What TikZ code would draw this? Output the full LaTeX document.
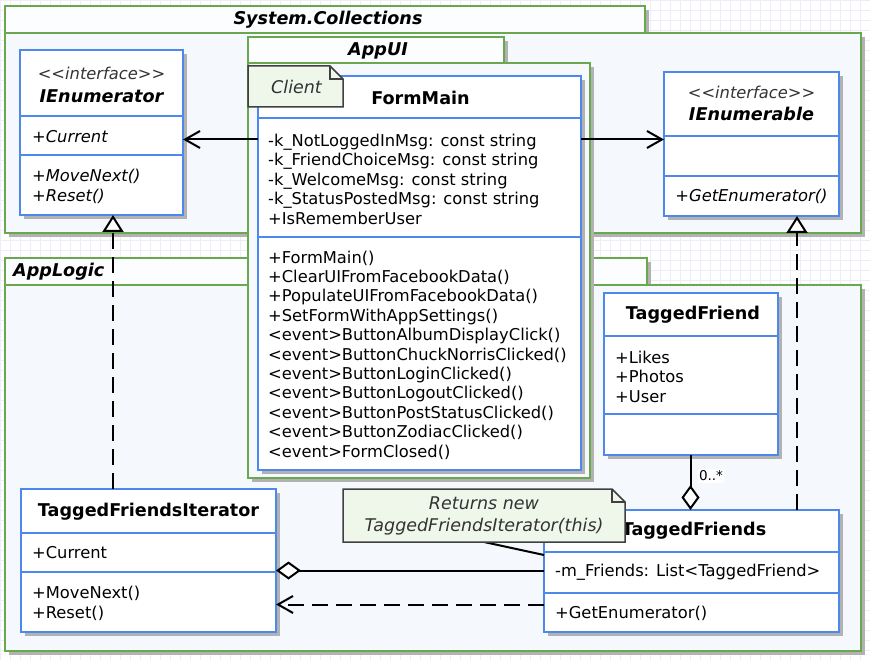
\documentclass[tikz,border=0pt]{standalone}
\usepackage{fontspec}
\setmainfont{DejaVu Sans}
\usetikzlibrary{arrows.meta,shadows}

\definecolor{verdepkg}{RGB}{106,168,79}
\definecolor{fundopkg}{RGB}{245,249,253}
\definecolor{fundoaba}{RGB}{252,253,255}
\definecolor{azulcls}{RGB}{77,137,237}
\definecolor{fundonota}{RGB}{239,246,234}
\definecolor{linhanota}{RGB}{64,64,64}
\definecolor{grade}{RGB}{237,237,249}

\newcommand{\fonteuml}{\fontsize{16.3}{19.4}\selectfont}
\newcommand{\fontetitulo}{\fontsize{17.6}{21}\selectfont}
\newcommand{\fontenota}{\fontsize{17.5}{21.5}\selectfont}
\newcommand{\fontemult}{\fontsize{13.5}{15}\selectfont}

\tikzset{
  sombra/.style={drop shadow={shadow xshift=4pt,shadow yshift=-4pt,fill=black!30,opacity=1}},
  pacote/.style={draw=verdepkg,line width=2pt,fill=fundopkg,sombra},
  aba/.style={pacote,fill=fundoaba},
  rotulopkg/.style={font=\fontetitulo\bfseries\itshape,inner sep=0pt},
  classe/.style={draw=azulcls,line width=2pt,fill=white,sombra,
    anchor=north west,inner sep=0pt,outer sep=0pt},
  divisoria/.style={draw=azulcls,line width=2pt},
  titulo/.style={font=\fontetitulo\bfseries,inner sep=0pt},
  estereo/.style={font=\fonteuml\itshape,text=black!80,inner sep=0pt},
  interface/.style={font=\fontetitulo\bfseries\itshape,inner sep=0pt},
  membros/.style={font=\fonteuml,anchor=west,align=left,inner sep=0pt},
  abstrato/.style={membros,font=\fonteuml\itshape},
  nota/.style={anchor=north west,inner sep=0pt,outer sep=0pt},
  notafundo/.style={draw=linhanota,line width=1.5pt,fill=fundonota},
  textonota/.style={font=\fontenota\itshape,align=center,text=black!80,inner sep=0pt},
  ligacao/.style={line width=2pt},
  assoc/.style={ligacao,-{Straight Barb[length=15pt,width=17pt]}},
  depende/.style={assoc,dash pattern=on 16pt off 8pt},
  realiza/.style={ligacao,dash pattern=on 16pt off 8pt,
    -{Triangle[length=17pt,width=21pt,fill=white]}},
  agrega/.style={ligacao,-{Diamond[length=25pt,width=18pt,fill=white]}},
  mult/.style={font=\fontemult,fill=white,inner sep=1.5pt,right=6pt,pos=0.38},
}

\begin{document}
\begin{tikzpicture}[x=1pt,y=-1pt]
  % Fundo
  \useasboundingbox (0,0) rectangle (870,660);
  \fill[white] (0,0) rectangle (870,660);
  \draw[grade,line width=0.5pt] (0,0) grid[step=10pt] (870,660);

  % Pacote System.Collections
  \draw[aba] (5,6) rectangle (645,33);
  \draw[pacote] (5,33) rectangle (861,233);
  \node[rotulopkg] (scL) at (328,19.5) {System.Collections};

  % Pacote AppLogic
  \draw[aba] (5,258) rectangle (647,285);
  \draw[pacote] (5,285) rectangle (861,651);
  \node[rotulopkg,anchor=west] (lgL) at (13,272) {AppLogic};

  % Pacote AppUI
  \draw[aba] (248,37) rectangle (504,63);
  \draw[pacote] (248,63) rectangle (590,478);
  \node[rotulopkg] (uiL) at (378,50.5) {AppUI};

  % IEnumerator
  \node[classe,minimum width=163pt,minimum height=165pt] (ie) at (20,50) {};
  \draw[divisoria] (20,116) -- (183,116);
  \draw[divisoria] (20,155) -- (183,155);
  \node[estereo] (ieS) at (101.5,73) {<{}<interface>{}>};
  \node[interface] (ieN) at (101.5,96) {IEnumerator};
  \node[abstrato] (ieA) at (32,136.5) {+Current};
  \node[abstrato] (ieM) at (32,186.5) {+MoveNext()\\+Reset()};

  % IEnumerable
  \node[classe,minimum width=175pt,minimum height=144pt] (eb) at (664,72) {};
  \draw[divisoria] (664,136) -- (839,136);
  \draw[divisoria] (664,176) -- (839,176);
  \node[estereo] (ebS) at (751.5,92) {<{}<interface>{}>};
  \node[interface] (ebN) at (751.5,113.5) {IEnumerable};
  \node[abstrato,anchor=center] (ebM) at (751.5,196.5) {+GetEnumerator()};

  % FormMain
  \node[classe,minimum width=323pt,minimum height=394pt] (fm) at (258,76) {};
  \draw[divisoria] (258,118) -- (581,118);
  \draw[divisoria] (258,237) -- (581,237);
  \node[titulo] (fmN) at (420.5,98) {FormMain};
  \node[membros] (fmA) at (268,179.3) {-k\_NotLoggedInMsg: const string\\
    -k\_FriendChoiceMsg: const string\\-k\_WelcomeMsg: const string\\
    -k\_StatusPostedMsg: const string\\+IsRememberUser};
  \node[membros] (fmM) at (268,355) {+FormMain()\\+ClearUIFromFacebookData()\\
    +PopulateUIFromFacebookData()\\+SetFormWithAppSettings()\\
    <event>ButtonAlbumDisplayClick()\\<event>ButtonChuckNorrisClicked()\\
    <event>ButtonLoginClicked()\\<event>ButtonLogoutClicked()\\
    <event>ButtonPostStatusClicked()\\<event>ButtonZodiacClicked()\\
    <event>FormClosed()};

  % TaggedFriendsIterator
  \node[classe,minimum width=255pt,minimum height=143pt] (it) at (21,489) {};
  \draw[divisoria] (21,533) -- (276,533);
  \draw[divisoria] (21,572) -- (276,572);
  \node[titulo] (itN) at (148.5,511.5) {TaggedFriendsIterator};
  \node[membros] (itA) at (32,553) {+Current};
  \node[membros] (itM) at (32,603.3) {+MoveNext()\\+Reset()};

  % TaggedFriend
  \node[classe,minimum width=174pt,minimum height=162pt] (tf) at (604,293) {};
  \draw[divisoria] (604,336) -- (778,336);
  \draw[divisoria] (604,414) -- (778,414);
  \node[titulo] (tfN) at (693,315) {TaggedFriend};
  \node[membros] (tfA) at (615,376.7) {+Likes\\+Photos\\+User};

  % TaggedFriends
  \node[classe,minimum width=295pt,minimum height=122pt] (tfs) at (544,510) {};
  \draw[divisoria] (544,552) -- (839,552);
  \draw[divisoria] (544,593) -- (839,593);
  \node[titulo] (tfsN) at (694,530.5) {TaggedFriends};
  \node[membros] (tfsA) at (555,572.5) {-m\_Friends: List<TaggedFriend>};
  \node[membros] (tfsM) at (555,613) {+GetEnumerator()};

  % Ligações
  \coordinate (lnk) at (0,139.5);
  \coordinate (rz1) at (113,0);
  \coordinate (rz2) at (797,0);
  \coordinate (ag1) at (690.5,0);
  \coordinate (ag2) at (0,570.5);
  \coordinate (dp) at (0,604.5);
  \coordinate (nl) at (0,555);
  \draw[assoc] (fm.west |- lnk) -- (ie.east |- lnk);
  \draw[assoc] (fm.east |- lnk) -- (eb.west |- lnk);
  \draw[realiza] (it.north -| rz1) -- (ie.south -| rz1);
  \draw[realiza] (tfs.north -| rz2) -- (eb.south -| rz2);
  \draw[agrega] (tf.south -| ag1) -- node[mult] (m1) {0..*} (tfs.north -| ag1);
  \draw[agrega] (tfs.west |- ag2) -- (it.east |- ag2);
  \draw[depende] (tfs.west |- dp) -- (it.east |- dp);

  % Notas
  \node[nota,minimum width=95pt,minimum height=41pt] (cl) at (248,66) {};
  \draw[notafundo] (cl.north west) -- ([xshift=-13pt]cl.north east)
    -- ([yshift=-13pt]cl.north east) -- (cl.south east) -- (cl.south west) -- cycle;
  \draw[notafundo,fill=none] ([xshift=-13pt]cl.north east)
    -- ([xshift=-13pt,yshift=-13pt]cl.north east) -- ([yshift=-13pt]cl.north east);
  \node[textonota] (clT) at (296.5,87) {Client};

  \node[nota,minimum width=282pt,minimum height=53pt] (rn) at (343,489) {};
  \draw[ligacao] (rn.south) -- (tfs.west |- nl);
  \draw[notafundo] (rn.north west) -- ([xshift=-13pt]rn.north east)
    -- ([yshift=-13pt]rn.north east) -- (rn.south east) -- (rn.south west) -- cycle;
  \draw[notafundo,fill=none] ([xshift=-13pt]rn.north east)
    -- ([xshift=-13pt,yshift=-13pt]rn.north east) -- ([yshift=-13pt]rn.north east);
  \node[textonota] (rnT) at (484,516) {Returns new\\TaggedFriendsIterator(this)};
\end{tikzpicture}
\end{document}
